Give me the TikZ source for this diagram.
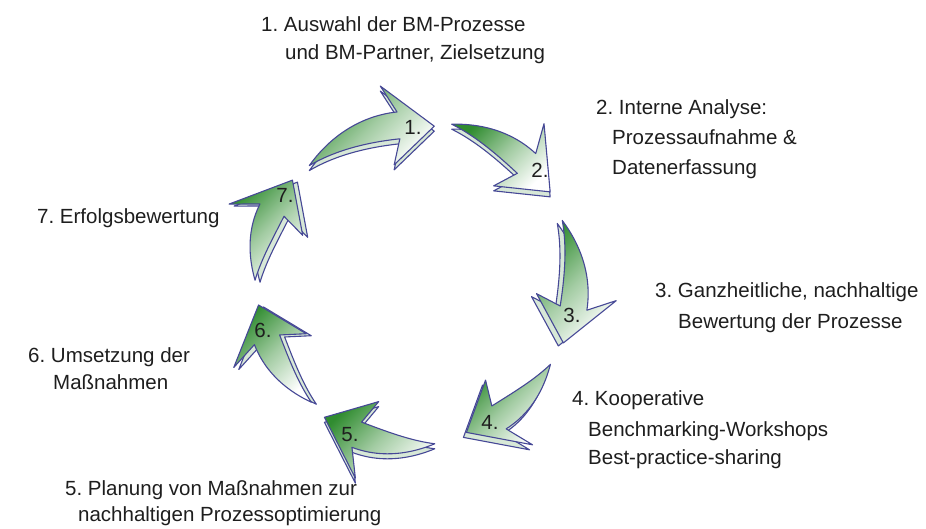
\documentclass[tikz,border=0pt]{standalone}
\usepackage{fontspec}
\setmainfont{Liberation Sans}
\frenchspacing
\definecolor{agreen}{RGB}{48,140,48}
\definecolor{aline}{RGB}{70,72,150}
\definecolor{atext}{RGB}{30,30,30}
\definecolor{aside}{RGB}{215,232,215}
\tikzset{
  lbl/.style={anchor=base west, inner sep=0pt, text=atext, font=\fontsize{20.5}{24}\selectfont},
  num/.style={inner sep=0pt, text=atext, font=\fontsize{20.5}{24}\selectfont},
  arrowface/.style={draw=aline, line width=1.1pt, line join=round,
    top color=agreen, bottom color=white, middle color=agreen!45!white, shading angle=45},
  arrowside/.style={draw=aline, line width=1.1pt, line join=round, fill=aside},
}
% #1 tail angle, #2 tip angle, #3 radius, #4 #5 side offset
\newcommand{\cyclearrow}[5]{%
  \pgfmathsetmacro{\ah}{#2-13}%
  \path[arrowside, shift={(#4,#5)}]
    plot[domain=#1:\ah, samples=25, variable=\t] (\t:{#3+14*sin(90*(\t-#1)/(\ah-#1))})
    -- (\ah-4:#3+42) -- (#2:#3) -- (\ah-4:#3-38)
    -- plot[domain=\ah:#1, samples=25, variable=\t] (\t:{#3-13*sin(90*(\t-#1)/(\ah-#1))})
    -- cycle;
  \path[arrowface]
    plot[domain=#1:\ah, samples=25, variable=\t] (\t:{#3+14*sin(90*(\t-#1)/(\ah-#1))})
    -- (\ah-4:#3+42) -- (#2:#3) -- (\ah-4:#3-38)
    -- plot[domain=\ah:#1, samples=25, variable=\t] (\t:{#3-13*sin(90*(\t-#1)/(\ah-#1))})
    -- cycle;
}
\begin{document}
\begin{tikzpicture}[x=1pt,y=-1pt]
\useasboundingbox (0,0) rectangle (926,528);
\begin{scope}[shift={(415,283)}]
  \cyclearrow{228}{277}{158}{0}{5}
  \cyclearrow{283}{326}{163}{0}{5}
  \cyclearrow{337}{382}{160}{-5}{3}
  \cyclearrow{31}{71}{158}{-3}{5}
  \cyclearrow{83}{124}{162}{0}{5}
  \cyclearrow{131}{172}{158}{5}{2}
  \cyclearrow{181}{220}{160}{5}{2}
\end{scope}
\node[num] (n1) at (413,127) {1.};
\node[num] (n2) at (540,170) {2.};
\node[num] (n3) at (572,315) {3.};
\node[num] (n4) at (490,422) {4.};
\node[num] (n5) at (350,435) {5.};
\node[num] (n6) at (263,330) {6.};
\node[num] (n7) at (285,195) {7.};
\node[lbl] (t1a) at (261,31.5) {1. Auswahl der BM-Prozesse};
\node[lbl] (t1b) at (285,59) {und BM-Partner, Zielsetzung};
\node[lbl] (t2a) at (596,114) {2. Interne Analyse:};
\node[lbl] (t2b) at (612,144) {Prozessaufnahme \&};
\node[lbl] (t2c) at (612,174) {Datenerfassung};
\node[lbl] (t3a) at (655,297) {3. Ganzheitliche, nachhaltige};
\node[lbl] (t3b) at (678,328) {Bewertung der Prozesse};
\node[lbl] (t4a) at (572,405) {4. Kooperative};
\node[lbl] (t4b) at (588,436) {Benchmarking-Workshops};
\node[lbl] (t4c) at (588,464) {Best-practice-sharing};
\node[lbl] (t5a) at (65,495) {5. Planung von Maßnahmen zur};
\node[lbl] (t5b) at (78,521) {nachhaltigen Prozessoptimierung};
\node[lbl] (t6a) at (28,362) {6. Umsetzung der};
\node[lbl] (t6b) at (53,389) {Maßnahmen};
\node[lbl] (t7) at (37,223) {7. Erfolgsbewertung};
\end{tikzpicture}
\end{document}
